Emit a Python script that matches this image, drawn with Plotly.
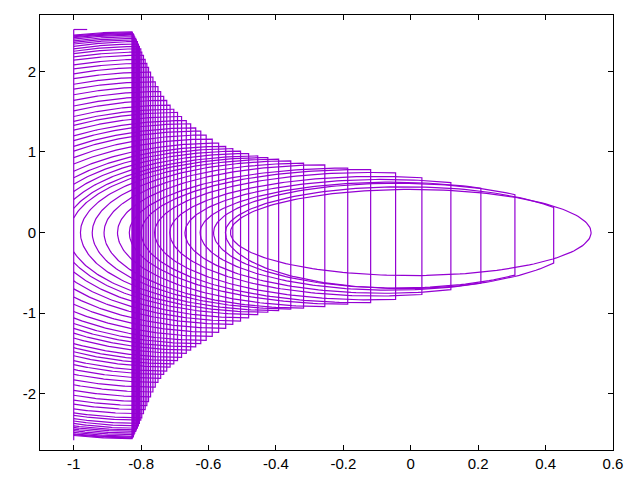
import numpy as np
import plotly.graph_objects as go

# ── Data ─────────────────────────────────────────────────────

# innermost closed curve (centred on the origin)
core_radius = 0.535

# one vertical chord per nested loop, right to left
chord_x = [0.424, 0.309, 0.208, 0.119, 0.033, -0.045, -0.119, -0.187, -0.255, -0.318,
           -0.356, -0.392, -0.424, -0.454, -0.481, -0.505, -0.528, -0.549, -0.570, -0.589,
           -0.607, -0.623, -0.638, -0.653, -0.666, -0.680, -0.692, -0.703, -0.714, -0.724,
           -0.733, -0.742, -0.750, -0.758, -0.765, -0.772, -0.778, -0.783, -0.788, -0.793,
           -0.798, -0.801, -0.805, -0.808, -0.811, -0.814, -0.816, -0.819, -0.821, -0.823,
           -0.824, -0.826, -0.827]
chord_top = [0.31, 0.47, 0.55, 0.62, 0.68, 0.74, 0.78, 0.80, 0.84, 0.86,
             0.89, 0.91, 0.93, 0.95, 0.98, 1.01, 1.04, 1.07, 1.11, 1.16,
             1.21, 1.26, 1.30, 1.35, 1.39, 1.44, 1.49, 1.53, 1.58, 1.64,
             1.69, 1.75, 1.81, 1.87, 1.93, 1.99, 2.05, 2.10, 2.15, 2.20,
             2.24, 2.28, 2.31, 2.34, 2.37, 2.39, 2.41, 2.43, 2.45, 2.46,
             2.47, 2.48, 2.49]
chord_bot = [-0.38, -0.53, -0.63, -0.71, -0.77, -0.83, -0.87, -0.89, -0.92, -0.94,
             -0.95, -0.97, -0.99, -1.02, -1.06, -1.10, -1.14, -1.19, -1.24, -1.29,
             -1.34, -1.38, -1.42, -1.46, -1.50, -1.55, -1.59, -1.63, -1.67, -1.72,
             -1.76, -1.81, -1.86, -1.92, -1.98, -2.04, -2.10, -2.15, -2.20, -2.25,
             -2.30, -2.33, -2.37, -2.40, -2.43, -2.45, -2.47, -2.49, -2.51, -2.53,
             -2.54, -2.55, -2.56]

# the first loops close before x = -1: left tip and crest position
tip_x = [-0.55, -0.585, -0.625, -0.67, -0.715, -0.76, -0.80, -0.835, -0.87, -0.91, -0.945, -0.98]
crest_x = [-0.02, -0.04, -0.06, -0.08, -0.10, -0.12, -0.15, -0.19, -0.25, -0.31, -0.35, -0.39]

# the remaining loops are cut at x = -1: heights where they meet that edge
edge_top = [0.18, 0.30, 0.41, 0.51, 0.60, 0.68, 0.76, 0.85, 0.93, 1.01,
            1.07, 1.14, 1.20, 1.27, 1.33, 1.38, 1.44, 1.51, 1.57, 1.64,
            1.71, 1.78, 1.84, 1.91, 1.97, 2.03, 2.08, 2.14, 2.18, 2.22,
            2.25, 2.28, 2.31, 2.34, 2.36, 2.38, 2.40, 2.42, 2.43, 2.44, 2.45]
edge_bot = [-0.24, -0.37, -0.49, -0.60, -0.70, -0.80, -0.89, -0.98, -1.06, -1.13,
            -1.19, -1.25, -1.31, -1.38, -1.43, -1.48, -1.53, -1.59, -1.64, -1.70,
            -1.76, -1.83, -1.89, -1.96, -2.02, -2.08, -2.13, -2.19, -2.24, -2.27,
            -2.31, -2.34, -2.37, -2.40, -2.42, -2.44, -2.46, -2.48, -2.50, -2.51, -2.52]

# left edge line and the short stub at its top
edge_x = [-1.0, -1.0]
edge_y = [-2.58, 2.52]
stub_x = [-1.0, -0.96]
stub_y = [2.52, 2.52]

x_ticks = [-1, -0.8, -0.6, -0.4, -0.2, 0, 0.2, 0.4, 0.6]
x_labels = ["-1", "-0.8", "-0.6", "-0.4", "-0.2", "0", "0.2", "0.4", "0.6"]
y_ticks = [-2, -1, 0, 1, 2]
y_labels = ["-2", "-1", "0", "1", "2"]

LINE = "#9400D3"
N = 80


def inner_loop(xk, top, bot, tip, crest):
    """Loop closing at its left tip, cut on the right by its chord."""
    a = crest - tip
    th_k = np.arccos((xk - crest) / a)
    s = np.sin(th_k)
    ht, hb = top / s, bot / s
    up = np.linspace(np.pi, th_k, N)
    down = np.linspace(th_k, np.pi, N)
    xs = list(crest + a * np.cos(up)) + list(crest + a * np.cos(down))
    ys = list(ht * np.sin(up)) + list(hb * np.sin(down))
    return xs, ys


def outer_loop(xk, top, bot, lt, lb):
    """Loop running from x = -1 to its chord, crest at the chord."""
    d = xk + 1.0
    at = d / np.sqrt(1 - (lt / top) ** 2)
    ab = d / np.sqrt(1 - (lb / bot) ** 2)
    up = np.linspace(np.arccos(-d / at), np.pi / 2, N)
    down = np.linspace(np.pi / 2, np.arccos(-d / ab), N)
    xs = list(xk + at * np.cos(up)) + list(xk + ab * np.cos(down))
    ys = list(top * np.sin(up)) + list(bot * np.sin(down))
    return xs, ys


px, py = [], []

th = np.linspace(0, 2 * np.pi, 200)
px += list(core_radius * np.cos(th)) + [None]
py += list(core_radius * np.sin(th)) + [None]

n_inner = len(tip_x)
for k in range(len(chord_x)):
    if k < n_inner:
        xs, ys = inner_loop(chord_x[k], chord_top[k], chord_bot[k], tip_x[k], crest_x[k])
    else:
        j = k - n_inner
        xs, ys = outer_loop(chord_x[k], chord_top[k], chord_bot[k], edge_top[j], edge_bot[j])
    px += xs + [None]
    py += ys + [None]

px += edge_x + [None] + stub_x
py += edge_y + [None] + stub_y

fig = go.Figure(go.Scatter(x=px, y=py, mode="lines",
                           line=dict(color=LINE, width=1.2), hoverinfo="skip"))

axis_style = dict(
    showgrid=False, zeroline=False, showline=True, linecolor="black", linewidth=1,
    mirror="ticks", ticks="inside", ticklen=5, tickcolor="black", automargin=False,
)
fig.update_xaxes(range=[-1.1, 0.6], tickvals=x_ticks, ticktext=x_labels, **axis_style)
fig.update_yaxes(range=[-2.7, 2.7], tickvals=y_ticks, ticktext=y_labels, **axis_style)
# page body adds an 8px offset, so the figure is sized to fit the window
fig.update_layout(
    width=632, height=472,
    margin=dict(l=32, r=27, t=7, b=30),
    plot_bgcolor="white", paper_bgcolor="white",
    font=dict(family="Liberation Sans, Arial, sans-serif", size=15, color="black"),
    showlegend=False,
)

fig.write_html("out.html")
